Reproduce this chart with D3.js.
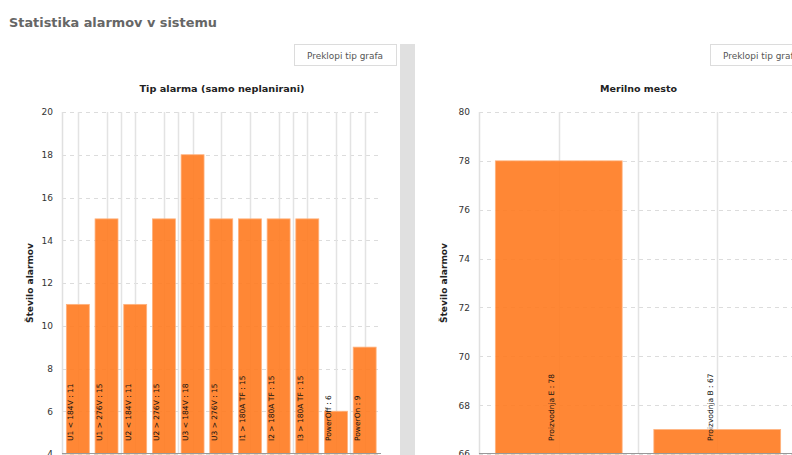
<!DOCTYPE html>
<html><head><meta charset="utf-8">
<script src="https://cdn.jsdelivr.net/npm/d3@7"></script>
<style>
html,body{margin:0;padding:0;background:#fff;overflow:hidden;}
svg{display:block;font-family:"DejaVu Sans",Verdana,sans-serif;}
</style></head>
<body>
<svg id="c" width="792" height="455"></svg>
<script>
const pageTitle = "Statistika alarmov v sistemu";
const buttonText = "Preklopi tip grafa";
const yTitle = "Število alarmov";

const leftTitle = "Tip alarma (samo neplanirani)";
const leftCats = ["U1 < 184V","U1 > 276V","U2 < 184V","U2 > 276V","U3 < 184V","U3 > 276V","I1 > 180A TF","I2 > 180A TF","I3 > 180A TF","PowerOff","PowerOn"];
const leftValues = [11,15,11,15,18,15,15,15,15,6,9];
const leftTicks = [4,6,8,10,12,14,16,18,20];
const leftBoundaryGrid = [2,4,8,10];

const rightTitle = "Merilno mesto";
const rightCats = ["Proizvodnja E","Proizvodnja B"];
const rightValues = [78,67];
const rightTicks = [66,68,70,72,74,76,78,80];
const rightBoundaryGrid = [1,2];

const svg = d3.select("#c");

// page title
svg.append("text").attr("x",9).attr("y",26.5)
  .attr("font-size",13).attr("font-weight","bold").attr("fill","#666")
  .attr("textLength",208).attr("lengthAdjust","spacingAndGlyphs")
  .text(pageTitle);

// divider
svg.append("rect").attr("x",400).attr("y",44).attr("width",15).attr("height",411).attr("fill","#e0e0e0");

function button(x){
  const g = svg.append("g");
  g.append("rect").attr("x",x+0.5).attr("y",44.5).attr("width",102).attr("height",21)
    .attr("fill","#fff").attr("stroke","#dcdcdc");
  g.append("text").attr("x",x+13).attr("y",58.5).attr("font-size",9.5).attr("fill","#555")
    .attr("textLength",76).attr("lengthAdjust","spacingAndGlyphs").text(buttonText);
}
button(294);
button(710);

function chart(opt){
  const {cats, values, ticks, title, titleX, titleLen, x0, x1, gridL, gridR, yTitleX, boundary} = opt;
  const y = d3.scaleLinear().domain([ticks[0], ticks[ticks.length-1]]).range([454, 112]);
  const x = d3.scaleBand().domain(cats).range([x0, x1]).paddingInner(0.2).paddingOuter(0.1);
  const g = svg.append("g");

  // horizontal dashed grid
  g.append("g").selectAll("line").data(ticks).join("line")
    .attr("x1",gridL).attr("x2",gridR).attr("y1",d=>Math.round(y(d))+0.5).attr("y2",d=>Math.round(y(d))+0.5)
    .attr("stroke","#dcdcdc").attr("stroke-dasharray","4,4");

  // vertical grid at category centers and some boundaries
  const step = x.step();
  const bpos = boundary.map(i => x0 + i*step);
  const vlines = cats.map(c=>x(c)+x.bandwidth()/2).concat(bpos);
  g.append("g").selectAll("line").data(vlines).join("line")
    .attr("x1",d=>Math.round(d)+0.5).attr("x2",d=>Math.round(d)+0.5).attr("y1",112).attr("y2",454)
    .attr("stroke","#e3e3e3").attr("stroke-width",1.5);

  // left axis line
  g.append("line").attr("x1",gridL+0.5).attr("x2",gridL+0.5).attr("y1",112).attr("y2",454)
    .attr("stroke","#e0e0e0").attr("stroke-width",1.5);

  // bars
  g.append("g").selectAll("rect").data(values).join("rect")
    .attr("x",(d,i)=>x(cats[i])).attr("width",x.bandwidth())
    .attr("y",d=>y(d)).attr("height",d=>454-y(d))
    .attr("fill","#ff7a1f").attr("fill-opacity",0.9)
    .attr("stroke","#ffb27e").attr("stroke-width",0.8);

  // bottom axis line
  g.append("line").attr("x1",gridL).attr("x2",gridR).attr("y1",453.5).attr("y2",453.5)
    .attr("stroke","#999");

  // y axis ticks
  const ax = d3.axisLeft(y).tickValues(ticks).tickSize(0).tickPadding(0).tickFormat(d3.format("d"));
  const axg = g.append("g").attr("transform",`translate(${gridL-9},0)`).call(ax);
  axg.select(".domain").remove();
  axg.selectAll("text").attr("font-size",9).attr("fill","#333").attr("font-family","DejaVu Sans, sans-serif");

  // bar labels
  g.append("g").selectAll("text").data(values).join("text")
    .attr("transform",(d,i)=>`translate(${x(cats[i])+x.bandwidth()/2-4.5},441) rotate(-90)`)
    .attr("font-size",7.5).attr("fill","#111")
    .text((d,i)=>cats[i]+" : "+d);

  // chart title
  svg.append("text").attr("x",titleX).attr("y",91.5).attr("text-anchor","middle")
    .attr("font-size",9.5).attr("font-weight","bold").attr("fill","#222")
    .attr("textLength",titleLen).attr("lengthAdjust","spacingAndGlyphs").text(title);

  // y title
  svg.append("text").attr("transform",`translate(${yTitleX},283) rotate(-90)`).attr("text-anchor","middle")
    .attr("font-size",9).attr("font-weight","bold").attr("fill","#222")
    .attr("textLength",80).attr("lengthAdjust","spacingAndGlyphs").text(yTitle);
}

chart({cats:leftCats, values:leftValues, ticks:leftTicks, title:leftTitle, titleX:222, titleLen:165,
  x0:63.5, x1:379, gridL:62, gridR:381, yTitleX:32.5, boundary:leftBoundaryGrid});
chart({cats:rightCats, values:rightValues, ticks:rightTicks, title:rightTitle, titleX:638.5, titleLen:77,
  x0:479.5, x1:796.5, gridL:479, gridR:800, yTitleX:446.5, boundary:rightBoundaryGrid});
</script>
</body></html>
